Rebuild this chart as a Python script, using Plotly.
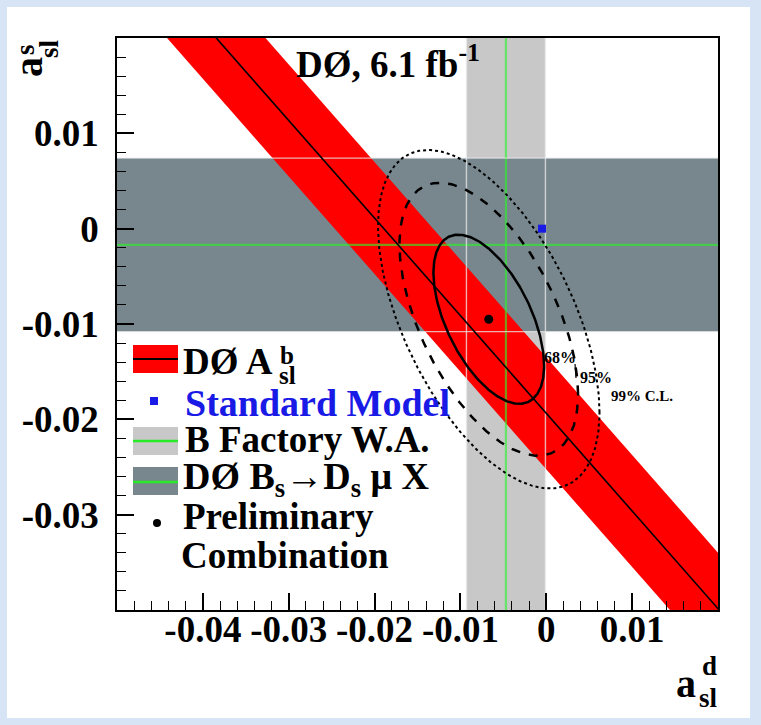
import numpy as np
import plotly.graph_objects as go

# ---------------- data ----------------
x_range = [-0.05, 0.02]
y_range = [-0.04, 0.02]
x_tickvals = [-0.04, -0.03, -0.02, -0.01, 0.0, 0.01]
x_ticktext = ["-0.04", "-0.03", "-0.02", "-0.01", "0", "0.01"]
y_tickvals = [-0.03, -0.02, -0.01, 0.0, 0.01]
y_ticktext = ["-0.03", "-0.02", "-0.01", "0", "0.01"]

# DØ A_sl^b measurement: A = frac_d * a_d + frac_s * a_s
Ab_central = -0.00957
Ab_error = 0.0029
frac_d = 0.506
frac_s = 0.494

# B factory world average of a_sl^d
bfac_ad = -0.0047
bfac_err = 0.0046

# DØ Bs -> Ds mu X measurement of a_sl^s
d0_as = -0.0017
d0_as_err = 0.0091

# Standard Model point
sm_ad = [-0.0005]
sm_as = [0.0]

# Preliminary combination
comb_ad = [-0.0067]
comb_as = [-0.0095]
comb_sigma_d = 0.00425
comb_sigma_s = 0.00585
comb_rho = -0.55
cl_chi2 = [2.30, 5.99, 9.21]
cl_names = ["68%", "95%", "99% C.L."]
cl_dash = ["solid", "dash", "dot"]
cl_width = [2.5, 2.5, 2.0]

# ---------------- style ----------------
FONT = "Liberation Serif"
RED = "#ff0000"
LGRAY = "#c8c8c8"
DGRAY = "#77878d"
GREEN = "rgba(40,245,40,0.62)"
EDGE = "rgba(235,235,235,0.75)"
BLUE = "#1a1ae6"

L, R, T, B = 117, 43, 38, 115
W, H = 761, 725
PW, PH = W - L - R, H - T - B


def px(xp):
    return (xp - L) / PW


def py(yp):
    return (H - B - yp) / PH


fig = go.Figure()

ylo, yhi = y_range[0] - 0.01, y_range[1] + 0.01
xlo, xhi = x_range[0] - 0.01, x_range[1] + 0.01

# light gray vertical band (B factory)
bx0, bx1 = bfac_ad - bfac_err, bfac_ad + bfac_err
fig.add_trace(go.Scatter(x=[bx0, bx1, bx1, bx0, bx0], y=[ylo, ylo, yhi, yhi, ylo],
                         fill="toself", fillcolor=LGRAY, line=dict(width=0),
                         mode="lines", hoverinfo="skip"))
# dark gray horizontal band (DØ Bs)
by0, by1 = d0_as - d0_as_err, d0_as + d0_as_err
fig.add_trace(go.Scatter(x=[xlo, xhi, xhi, xlo, xlo], y=[by0, by0, by1, by1, by0],
                         fill="toself", fillcolor=DGRAY, line=dict(width=0),
                         mode="lines", hoverinfo="skip"))
# red band A_sl^b
ad_ends = np.array([xlo, xhi])
as_lo = (Ab_central - Ab_error - frac_d * ad_ends) / frac_s
as_hi = (Ab_central + Ab_error - frac_d * ad_ends) / frac_s
fig.add_trace(go.Scatter(x=list(ad_ends) + list(ad_ends[::-1]) + [ad_ends[0]],
                         y=list(as_lo) + list(as_hi[::-1]) + [as_lo[0]],
                         fill="toself", fillcolor=RED, line=dict(width=0),
                         mode="lines", hoverinfo="skip"))
# green central lines
fig.add_trace(go.Scatter(x=[bfac_ad, bfac_ad], y=[ylo, yhi], mode="lines",
                         line=dict(color=GREEN, width=2.2), hoverinfo="skip"))
fig.add_trace(go.Scatter(x=[xlo, xhi], y=[d0_as, d0_as], mode="lines",
                         line=dict(color=GREEN, width=2.2), hoverinfo="skip"))
# band edges
for xv in (bx0, bx1):
    fig.add_trace(go.Scatter(x=[xv, xv], y=[ylo, yhi], mode="lines",
                             line=dict(color=EDGE, width=1.4), hoverinfo="skip"))
for yv in (by0, by1):
    fig.add_trace(go.Scatter(x=[xlo, xhi], y=[yv, yv], mode="lines",
                             line=dict(color=EDGE, width=1.4), hoverinfo="skip"))
# central black line of red band
as_c = (Ab_central - frac_d * ad_ends) / frac_s
fig.add_trace(go.Scatter(x=list(ad_ends), y=list(as_c), mode="lines",
                         line=dict(color="black", width=1.6), hoverinfo="skip"))
# confidence ellipses
t = np.linspace(0, 2 * np.pi, 400)
for k, dsh, wd in zip(cl_chi2, cl_dash, cl_width):
    r = np.sqrt(k)
    ex = comb_ad[0] + r * comb_sigma_d * np.cos(t)
    ey = comb_as[0] + r * comb_sigma_s * (comb_rho * np.cos(t) + np.sqrt(1 - comb_rho ** 2) * np.sin(t))
    fig.add_trace(go.Scatter(x=ex, y=ey, mode="lines",
                             line=dict(color="black", width=wd, dash=dsh), hoverinfo="skip"))
# SM point
fig.add_trace(go.Scatter(x=sm_ad, y=sm_as, mode="markers",
                         marker=dict(symbol="square", size=8, color=BLUE), hoverinfo="skip"))
# combination point
fig.add_trace(go.Scatter(x=comb_ad, y=comb_as, mode="markers",
                         marker=dict(symbol="circle", size=9, color="black"), hoverinfo="skip"))

shapes = []
# white panel on light-blue background
shapes.append(dict(type="rect", xref="paper", yref="paper", layer="below",
                   x0=px(7), x1=px(750), y0=py(718), y1=py(7),
                   fillcolor="white", line=dict(width=0)))


def prect(x0, y0, x1, y1, color):
    return dict(type="rect", xref="paper", yref="paper", layer="above",
                x0=px(x0), x1=px(x1), y0=py(y1), y1=py(y0),
                fillcolor=color, line=dict(width=0))


def pline(x0, y0, x1, y1, color, width):
    return dict(type="line", xref="paper", yref="paper", layer="above",
                x0=px(x0), x1=px(x1), y0=py(y0), y1=py(y1),
                line=dict(color=color, width=width))


# legend swatches
shapes.append(prect(133, 345, 178, 373, RED))
shapes.append(pline(133, 359, 178, 359, "black", 2))
shapes.append(prect(150, 397, 158, 405, BLUE))
shapes.append(prect(133, 427, 178, 455, LGRAY))
shapes.append(pline(133, 441, 178, 441, "rgb(40,235,40)", 2.5))
shapes.append(prect(133, 467, 178, 495, DGRAY))
shapes.append(pline(133, 482, 178, 482, "rgb(40,235,40)", 2.5))
shapes.append(dict(type="circle", xref="paper", yref="paper", layer="above",
                   x0=px(153), x1=px(161), y0=py(527), y1=py(519),
                   fillcolor="black", line=dict(width=0)))
# small pointer near CL labels
shapes.append(pline(575, 364, 576, 378, "black", 1.2))

ann = []


def text(xp, yp, s, size, color="black", xanchor="left", angle=0, bold=True):
    ann.append(dict(x=px(xp), y=py(yp), xref="paper", yref="paper", text=s,
                    showarrow=False, xanchor=xanchor, yanchor="middle", textangle=angle,
                    font=dict(family=FONT, size=size, color=color,
                              weight="bold" if bold else "normal")))


# title
text(294, 61, "DØ, 6.1 fb<sup>-1</sup>", 37)
# legend texts
text(181, 361, "DØ A", 37)
text(278, 355, "b", 25)
text(277, 376, "sl", 25)
text(183, 403, "Standard Model", 38, color=BLUE)
text(183, 439, "B Factory W.A.", 37)
text(181, 479, "DØ B<sub>s</sub>→D<sub>s</sub> μ X", 38)
text(181, 516, "Preliminary", 37)
text(179, 555, "Combination", 37)
# CL labels
text(560, 357, cl_names[0], 16, xanchor="center")
text(596, 377, cl_names[1], 16, xanchor="center")
text(642, 396, cl_names[2], 15, xanchor="center")
# axis titles
text(686, 683, "a", 40, xanchor="center")
text(709, 666, "d", 27, xanchor="center")
text(708, 698, "sl", 27, xanchor="center")
text(28, 67, "a", 40, xanchor="center", angle=-90)
text(25, 50, "s", 27, xanchor="center", angle=-90)
text(49, 49, "sl", 27, xanchor="center", angle=-90)

axis_common = dict(showgrid=False, zeroline=False, showline=True, linecolor="black",
                   linewidth=1.5, mirror=True, ticks="inside", ticklen=17, tickwidth=1.5,
                   tickcolor="black",
                   tickfont=dict(family=FONT, size=37, color="black", weight="bold"))

fig.update_layout(
    width=W, height=H,
    margin=dict(l=L, r=R, t=T, b=B),
    paper_bgcolor="#d6e4f5",
    plot_bgcolor="rgba(0,0,0,0)",
    showlegend=False,
    shapes=shapes,
    annotations=ann,
    xaxis=dict(range=x_range, tickvals=x_tickvals, ticktext=x_ticktext,
               minor=dict(dtick=0.002, tick0=0, ticks="inside", ticklen=9,
                          tickwidth=1.3, tickcolor="black"),
               ticklabelstandoff=-14, **axis_common),
    yaxis=dict(range=y_range, tickvals=y_tickvals, ticktext=y_ticktext,
               minor=dict(dtick=0.002, tick0=0, ticks="inside", ticklen=9,
                          tickwidth=1.3, tickcolor="black"),
               ticklabelstandoff=9, **axis_common),
)

fig.write_html("out.html")
